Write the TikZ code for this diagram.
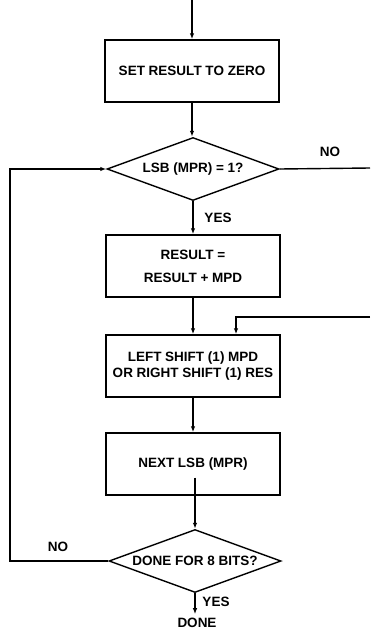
\documentclass[tikz,border=0pt]{standalone}
\usepackage{fontspec}
\setmainfont{Liberation Sans}
\usepackage{tikz}
\usetikzlibrary{shapes.geometric,arrows.meta}

\begin{document}
\begin{tikzpicture}[x=1pt, y=-1pt, line width=1.4pt,
    every node/.style={font=\fontsize{13.5}{16}\selectfont\bfseries},
    procbox/.style={draw, rectangle, minimum width=174pt, minimum height=62pt, inner sep=2pt, align=center},
    testbox/.style={draw, diamond, shape aspect=2.75, minimum width=172pt, minimum height=63pt, inner sep=0pt},
    flow/.style={-{Latex[length=6pt,width=4.5pt]}}] % flowchart arrows
  \useasboundingbox (0,0) rectangle (370,637);

  % Boxes and tests
  \node[procbox] (zero) at (192,71) {SET RESULT TO ZERO};
  \node[testbox] (lsb) at (193,169) {LSB (MPR) = 1?};
  \node[procbox] (add) at (193,266) {RESULT =\\[7pt] RESULT + MPD};
  \node[procbox] (shift) at (193,366) {LEFT SHIFT (1) MPD\\OR RIGHT SHIFT (1) RES};
  \node[procbox] (next) at (193,464) {NEXT LSB (MPR)};
  \node[testbox] (bits) at (195,561) {DONE FOR 8 BITS?};
  \node (done) at (197,623) {DONE};

  % Free ends
  \coordinate (entry) at (192,0);
  \coordinate (noout) at (370,168);
  \coordinate (noin) at (370,317);
  \coordinate (lft) at (10,0);

  % Main flow
  \draw[flow] (entry) -- (zero.north);
  \draw[flow] (zero.south) -- (zero.south |- lsb.north);
  \draw[flow] (lsb.south) -- (lsb.south |- add.north);
  \draw[flow] (add.south) -- (shift.north);
  \draw[flow] (shift.south) -- (next.north);
  \draw[flow] ([yshift=18pt]next.south -| bits.north) -- (bits.north);
  \draw[flow] (bits.south) -- (bits.south |- done.north);

  % Branches
  \draw (lsb.east) -- (noout);
  \draw[flow] (noin) -| ([xshift=43pt]shift.north);
  \draw[flow] (bits.west) -- (bits.west -| lft) -- (lsb.west -| lft) -- (lsb.west);

  % Labels
  \node (yes1) at (218,218) {YES};
  \node (no1) at (330,152) {NO};
  \node (no2) at (58,547) {NO};
  \node (yes2) at (216,602) {YES};
\end{tikzpicture}
\end{document}
